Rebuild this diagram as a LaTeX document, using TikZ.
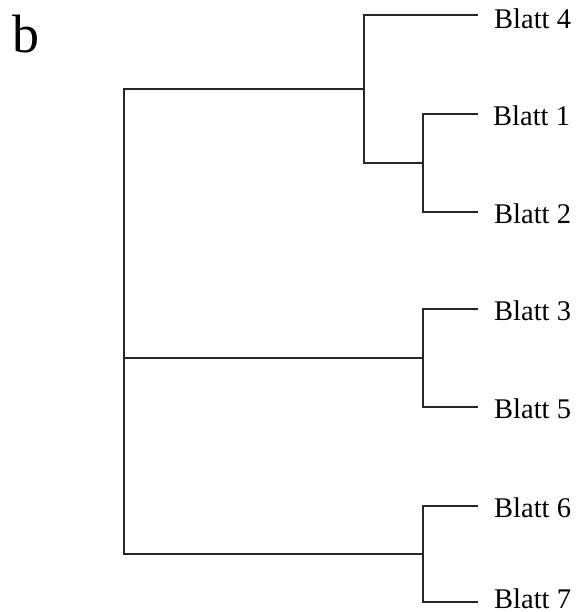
\documentclass[tikz,border=0pt]{standalone}
\usepackage{fontspec}
\setmainfont{Liberation Serif}
\begin{document}
\begin{tikzpicture}[x=1pt,y=-1pt,
  branch/.style={draw=black!85, line width=1.6pt, line join=miter},
  lbl/.style={anchor=west, inner sep=0pt, font=\fontsize{28.5}{32}\selectfont}]
\useasboundingbox (0,0) rectangle (584,612);
\node[anchor=base west, inner sep=0pt, font=\fontsize{54}{60}\selectfont] (title) at (12,53) {b};
% leaf tips
\coordinate (t4) at (478,15);
\coordinate (t1) at (478,114);
\coordinate (t2) at (478,212);
\coordinate (t3) at (478,309);
\coordinate (t5) at (478,407);
\coordinate (t6) at (478,506);
\coordinate (t7) at (478,602);
% inner nodes
\coordinate (n12) at (423,163);
\coordinate (n412) at (364,89);
\coordinate (n35) at (423,358);
\coordinate (n67) at (423,554);
\coordinate (r) at (124,358);
% labels (yshift is in canvas direction: negative moves down)
\node[lbl] (l4) at ([xshift=16pt,yshift=-4pt]t4) {Blatt 4};
\node[lbl] (l1) at ([xshift=15pt,yshift=-1.5pt]t1) {Blatt 1};
\node[lbl] (l2) at ([xshift=16pt,yshift=-1.5pt]t2) {Blatt 2};
\node[lbl] (l3) at ([xshift=16pt,yshift=-1.5pt]t3) {Blatt 3};
\node[lbl] (l5) at ([xshift=16pt,yshift=-1.5pt]t5) {Blatt 5};
\node[lbl] (l6) at ([xshift=16pt,yshift=-1.5pt]t6) {Blatt 6};
\node[lbl] (l7) at ([xshift=16pt,yshift=3.5pt]t7) {Blatt 7};
% branches
\draw[branch] (t4) -| (n412) |- (n12);
\draw[branch] (t1) -| (n12) |- (t2);
\draw[branch] (t3) -| (n35) |- (t5);
\draw[branch] (t6) -| (n67) |- (t7);
\draw[branch] (n412) -| (r) |- (n67);
\draw[branch] (r) -- (n35);
\end{tikzpicture}
\end{document}
